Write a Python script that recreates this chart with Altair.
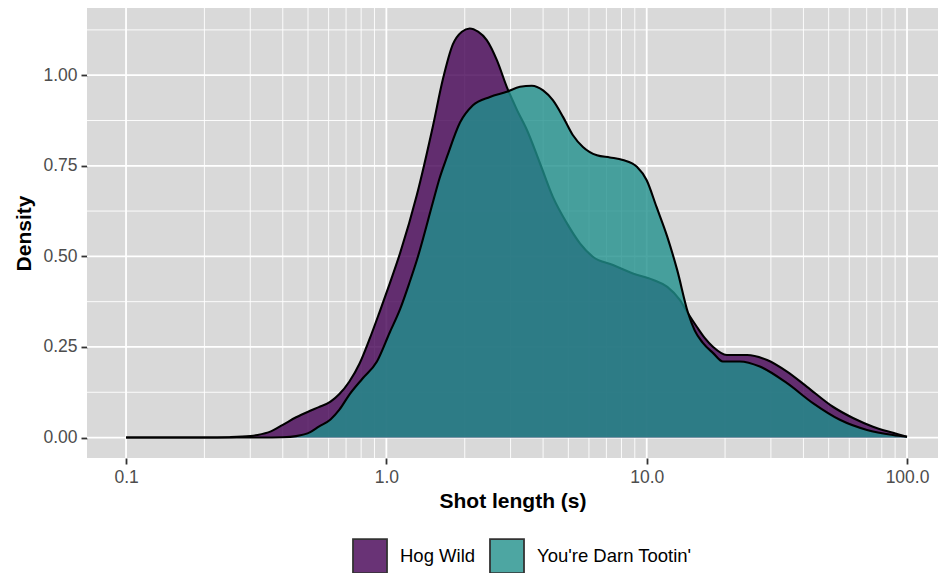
import altair as alt
import pandas as pd

# ---- data ----
series_names = ["Hog Wild", "You're Darn Tootin'"]
series_colors = ["#440154", "#21908C"]

hog_x = [0.1, 0.2, 0.25, 0.3, 0.32, 0.36, 0.4, 0.45, 0.51, 0.55,
         0.61, 0.66, 0.72, 0.79, 0.86, 0.94, 1.03, 1.13, 1.31, 1.51,
         1.65, 1.8, 1.95, 2.09, 2.25, 2.43, 2.66, 2.9, 3.17, 3.47,
         3.89, 4.36, 4.94, 5.54, 6.21, 7.42, 8.85, 10.6, 12.0, 13.4,
         14.4, 15.6, 16.7, 18.0, 20.3, 24.3, 29.0, 34.6, 41.3, 51.9,
         62.0, 74.0, 88.3, 100]
hog_y = [0, 0, 0.001, 0.004, 0.007, 0.017, 0.035, 0.056, 0.074, 0.084,
         0.099, 0.12, 0.154, 0.205, 0.27, 0.345, 0.425, 0.51, 0.67, 0.86,
         0.99, 1.085, 1.12, 1.129, 1.12, 1.097, 1.041, 0.968, 0.905, 0.848,
         0.757, 0.664, 0.591, 0.536, 0.499, 0.476, 0.453, 0.435, 0.416, 0.38,
         0.343, 0.305, 0.275, 0.25, 0.228, 0.228, 0.214, 0.182, 0.14, 0.085,
         0.054, 0.03, 0.013, 0.002]

toot_x = [0.1, 0.33, 0.4, 0.45, 0.51, 0.55, 0.61, 0.66, 0.72, 0.81,
          0.92, 1.03, 1.13, 1.23, 1.31, 1.51, 1.6, 1.71, 1.92, 2.15,
          2.5, 2.9, 3.26, 3.62, 4.0, 4.36, 4.77, 5.2, 5.69, 6.44,
          7.22, 8.1, 9.17, 10.0, 10.9, 12.0, 13.1, 14.4, 15.3, 16.4,
          18.0, 19.6, 22.8, 27.2, 34.6, 43.5, 55.2, 70.2, 88.3, 100]
toot_y = [0, 0, 0.001, 0.004, 0.015, 0.03, 0.05, 0.077, 0.118, 0.163,
          0.21, 0.29, 0.355, 0.43, 0.49, 0.65, 0.715, 0.775, 0.87, 0.917,
          0.94, 0.954, 0.968, 0.971, 0.958, 0.931, 0.885, 0.835, 0.802, 0.779,
          0.773, 0.766, 0.747, 0.71, 0.637, 0.554, 0.462, 0.345, 0.295, 0.262,
          0.233, 0.21, 0.21, 0.196, 0.15, 0.095, 0.049, 0.021, 0.007, 0.002]

x_major = [0.1, 1, 10, 100]
x_minor = [0.2, 0.3, 0.4, 0.5, 0.6, 0.7, 0.8, 0.9,
           2, 3, 4, 5, 6, 7, 8, 9,
           20, 30, 40, 50, 60, 70, 80, 90]
y_major = [0, 0.25, 0.5, 0.75, 1.0]
y_minor = [0.125, 0.375, 0.625, 0.875, 1.125]

FONT = "Liberation Sans, Arial, Helvetica, sans-serif"

hog = pd.DataFrame({"x": hog_x, "y": hog_y, "series": series_names[0]})
toot = pd.DataFrame({"x": toot_x, "y": toot_y, "series": series_names[1]})

# log x scale: 5% expansion on the left, panel cropped at the page edge on the right
xscale = alt.Scale(type="log", domain=[10 ** -1.15, 10 ** 2.119], nice=False)
ymax = max(max(hog_y), max(toot_y))
yscale = alt.Scale(domain=[-0.05 * ymax, ymax * 1.05], nice=False, zero=False)

x_axis = alt.Axis(values=x_major, format=".1f", title="Shot length (s)", grid=False,
                  domain=False, tickColor="#333333", tickWidth=1.8, tickSize=6,
                  labelColor="#4D4D4D", labelFontSize=17.5, labelFont=FONT,
                  labelPadding=4, labelFlush=False, labelOverlap=False,
                  titleFont=FONT, titleFontSize=21, titleFontWeight="bold",
                  titleColor="black", titlePadding=5)
y_axis = alt.Axis(values=y_major, format=".2f", title="Density", grid=False,
                  domain=False, tickColor="#333333", tickWidth=1.8, tickSize=6,
                  labelColor="#4D4D4D", labelFontSize=17.5, labelFont=FONT,
                  labelPadding=4, labelFlush=False, labelOverlap=False,
                  titleFont=FONT, titleFontSize=21, titleFontWeight="bold",
                  titleColor="black", titlePadding=8)

fill_enc = alt.Fill("series:N",
                    scale=alt.Scale(domain=series_names, range=series_colors),
                    legend=alt.Legend(orient="none", legendX=265, legendY=530,
                                      direction="horizontal", title=None,
                                      symbolType="square", symbolSize=1156,
                                      symbolStrokeColor="black", symbolStrokeWidth=1.8,
                                      symbolOpacity=0.8,
                                      labelFont=FONT, labelFontSize=18.5,
                                      labelColor="black", labelOffset=12,
                                      columnPadding=10, padding=0))

def X(field):
    return alt.X(field, scale=xscale, axis=x_axis)

def Y(field):
    return alt.Y(field, scale=yscale, axis=y_axis)

def vrules(vals, w):
    return alt.Chart(pd.DataFrame({"v": vals})).mark_rule(
        color="white", strokeWidth=w).encode(x=X("v:Q"))

def hrules(vals, w):
    return alt.Chart(pd.DataFrame({"v": vals})).mark_rule(
        color="white", strokeWidth=w).encode(y=Y("v:Q"))

def area(d):
    return alt.Chart(d).mark_area(interpolate="monotone", opacity=0.8).encode(
        x=X("x:Q"), y=Y("y:Q"), y2=alt.datum(0), fill=fill_enc)

def outline(d):
    return alt.Chart(d).mark_line(interpolate="monotone", color="black",
                                  strokeWidth=2.1).encode(x=X("x:Q"), y=Y("y:Q"))

chart = alt.layer(
    vrules(x_minor, 0.9), hrules(y_minor, 0.9),
    vrules(x_major, 1.8), hrules(y_major, 1.8),
    area(hog), outline(hog),
    area(toot), outline(toot),
).properties(
    width=851, height=450,
    autosize=alt.AutoSizeParams(type="none"),
    padding={"left": 79, "top": 0, "right": 0, "bottom": 115},
).configure_view(fill="#D9D9D9", strokeWidth=0)

chart.save("out.html", embed_options={"renderer": "svg", "actions": False})
